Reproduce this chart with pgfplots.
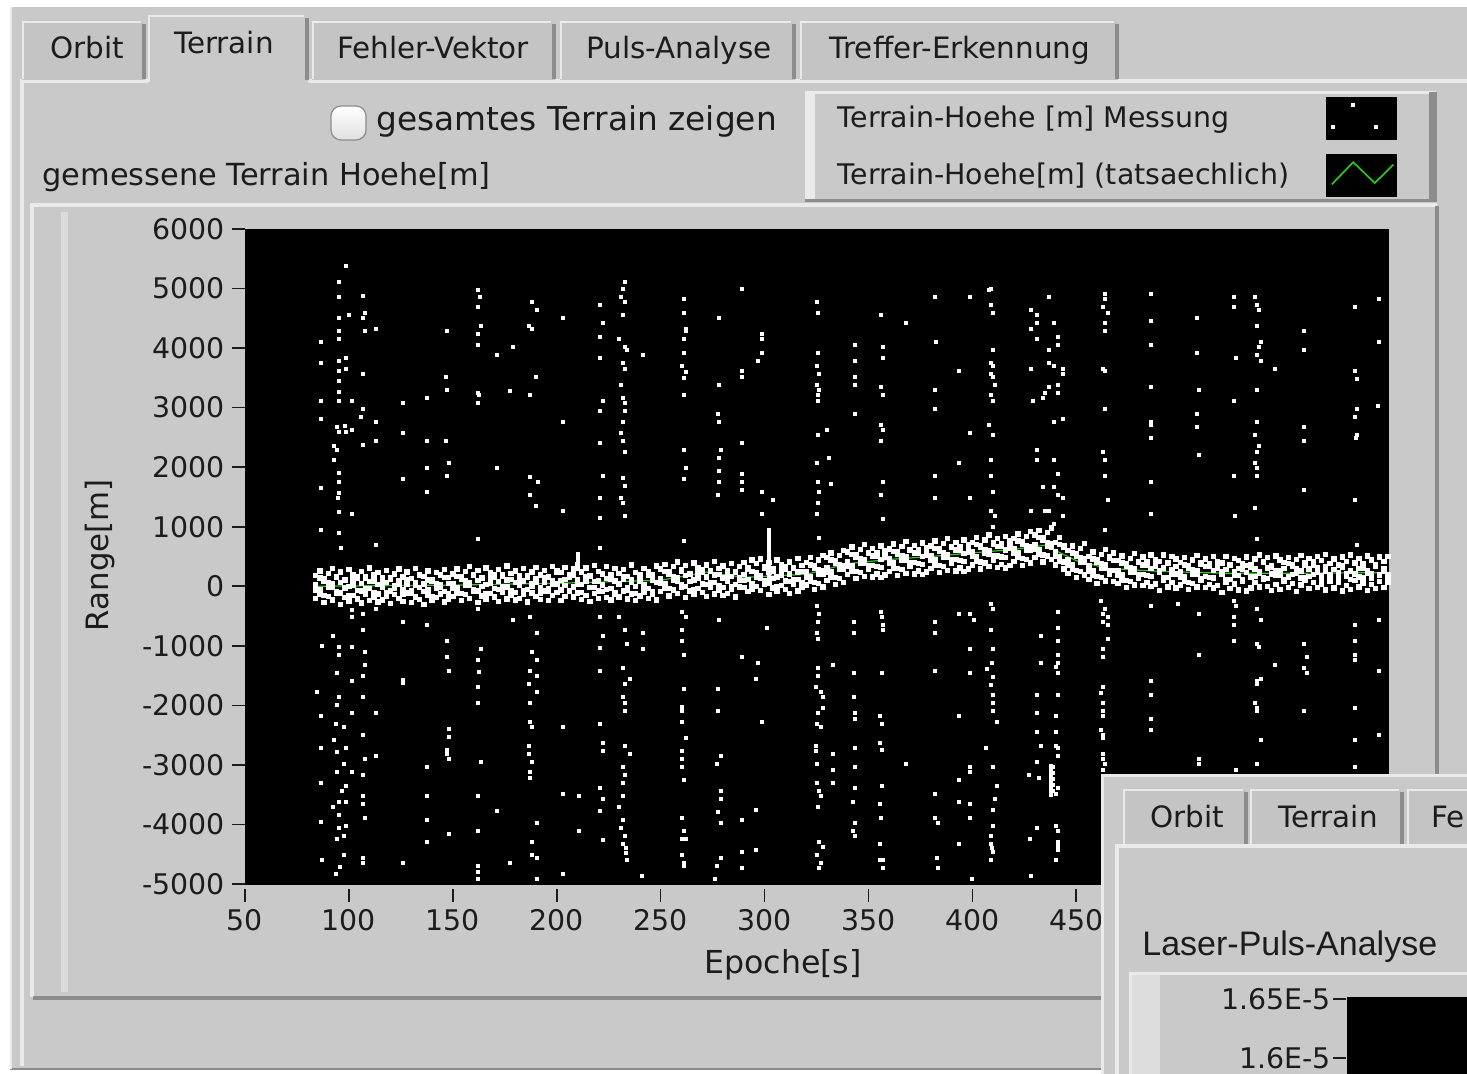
\documentclass[border=0pt]{standalone}
\usepackage{fontspec}
\setmainfont{DejaVu Sans}
\newfontfamily\helv{Liberation Sans}
\usepackage{pgfplots}
\pgfplotsset{compat=1.18}
\usepackage{pgfplotstable}
\definecolor{uigray}{RGB}{201,201,201}
\definecolor{tabgray}{RGB}{196,196,196}
\definecolor{uilight}{RGB}{234,234,234}
\definecolor{uishadow}{RGB}{140,140,140}
\definecolor{txt}{RGB}{28,28,28}
\definecolor{truegreen}{RGB}{40,210,20}

\pgfplotstableread{
x a b c d
84 20 180 -200 -60
86 -60 260 -140 140
88 90 130 -270 -150
90 -10 220 -170 60
92 40 300 -230 -20
94 -90 150 -120 170
96 70 240 -300 -110
98 -30 110 -190 100
100 0 280 -250 -160
102 110 200 -150 20
104 -70 170 -210 130
106 50 250 -280 -80
108 -40 140 -130 160
110 80 310 -240 -40
112 -100 190 -180 90
114 30 230 -260 -130
116 -20 150 -230 70
118 60 270 -160 -110
120 -80 120 -290 150
122 10 210 -140 -30
124 100 290 -200 40
126 -50 160 -250 -140
128 30 240 -110 120
130 -110 130 -270 -70
132 70 300 -180 10
134 -20 200 -220 180
136 40 170 -300 -90
138 -60 260 -150 110
140 90 110 -240 -170
142 -30 230 -190 50
144 20 190 -130 -10
146 -90 280 -260 150
148 50 150 -210 -120
150 50 210 -170 -30
152 -30 290 -110 170
154 120 160 -240 -120
156 20 250 -140 90
158 70 330 -200 10
160 -60 180 -90 200
162 100 270 -270 -80
164 0 140 -160 130
166 30 310 -220 -130
168 140 230 -120 50
170 -40 200 -180 160
172 80 280 -250 -50
174 -10 170 -100 190
176 110 340 -210 -10
178 -70 220 -150 120
180 60 260 -230 -100
182 10 180 -200 100
184 90 300 -130 -80
186 -50 150 -260 180
188 40 240 -110 0
190 130 320 -170 70
192 -20 190 -220 -110
194 60 270 -80 150
196 -80 160 -240 -40
198 100 330 -150 40
200 40 260 -100 240
202 100 230 -240 -60
204 10 320 -170 120
206 150 200 -70 -90
208 -10 290 -180 190
210 120 370 -110 40
212 30 240 -220 -100
214 80 310 -150 160
216 170 180 -250 -20
218 -20 350 -120 80
220 90 250 -200 -80
222 20 210 -90 200
224 130 330 -190 -50
226 -40 190 -230 120
228 90 300 -140 -110
230 40 220 -180 30
232 120 280 -80 170
234 -30 170 -210 -60
236 70 360 -130 110
238 0 230 -240 -120
240 150 190 -160 80
242 30 300 -100 -40
244 -40 250 -200 190
246 110 200 -140 -90
248 60 340 -230 60
250 130 290 -90 50
252 50 370 -30 250
254 200 240 -160 -40
256 100 330 -60 170
258 150 410 -120 90
260 20 260 -10 280
262 180 350 -190 0
264 80 220 -80 210
266 110 390 -140 -50
268 220 310 -40 130
270 40 280 -100 240
272 160 360 -170 30
274 70 250 -20 270
276 190 420 -130 70
278 10 300 -70 200
280 140 340 -150 -20
282 90 270 -120 180
284 170 380 -50 0
286 30 240 -180 250
288 150 330 -10 110
290 200 400 -20 100
292 120 310 -90 280
294 250 440 -50 40
296 150 380 0 230
298 180 460 -70 140
300 90 310 40 330
302 230 400 -140 50
304 130 290 -30 260
306 160 440 -90 0
308 270 360 10 180
310 90 330 -50 290
312 210 410 -120 80
314 120 300 30 320
316 240 470 -80 120
318 60 350 -20 250
320 240 400 20 160
322 160 480 80 360
324 310 350 -50 70
326 210 440 50 280
328 260 520 -10 200
330 320 480 100 240
332 240 560 160 440
334 390 430 30 150
336 290 520 130 360
338 340 600 70 280
340 420 580 200 340
342 340 660 260 540
344 490 530 130 250
346 390 620 230 460
348 440 700 170 380
350 350 550 280 570
352 510 640 160 350
354 330 510 210 560
356 450 680 150 320
358 480 600 190 510
360 470 630 250 390
362 390 710 310 590
364 540 580 180 300
366 440 670 280 510
368 490 750 220 430
370 400 600 330 620
372 560 690 210 400
374 380 560 260 610
376 500 730 200 370
378 530 650 240 560
380 520 680 300 440
382 440 760 360 640
384 590 630 230 350
386 490 720 330 560
388 540 800 270 480
390 450 650 380 670
392 610 740 260 450
394 430 610 310 660
396 550 780 250 420
398 580 700 290 610
400 580 740 360 500
402 500 820 420 700
404 650 690 290 410
406 550 780 390 620
408 600 860 330 540
410 510 710 440 730
412 670 800 320 510
414 490 670 370 720
416 610 840 310 480
418 640 760 350 670
420 640 800 420 560
422 560 880 480 760
424 710 750 350 470
426 610 840 450 680
428 660 920 390 600
430 700 860 480 620
432 620 940 540 820
434 770 810 410 530
436 670 900 510 740
438 720 980 450 660
440 580 740 360 500
442 500 820 420 700
444 650 690 290 410
446 440 600 220 360
448 360 680 280 560
450 510 550 150 270
452 410 640 250 480
454 460 720 190 400
456 340 500 120 260
458 260 580 180 460
460 410 450 50 170
462 310 540 150 380
464 360 620 90 300
466 270 470 200 490
468 430 560 80 270
470 270 430 50 190
472 190 510 110 390
474 340 380 -20 100
476 240 470 80 310
478 290 550 20 230
480 200 400 130 420
482 360 490 10 200
484 180 360 60 410
486 300 530 0 170
488 330 450 40 360
490 230 420 -70 270
492 310 530 100 150
494 150 380 -10 400
496 280 500 70 210
498 210 460 -30 330
500 240 400 20 160
502 160 480 80 360
504 310 350 -50 70
506 210 440 50 280
508 260 520 -10 200
510 130 370 100 390
512 330 460 -20 170
514 150 330 30 380
516 270 500 -30 140
518 300 420 10 330
520 200 390 -100 240
522 280 500 70 120
524 120 350 -40 370
526 250 470 40 180
528 180 430 -60 300
530 290 380 90 110
532 230 490 -80 350
534 320 360 -30 160
536 170 460 60 290
538 240 530 -10 220
540 140 410 120 400
542 310 480 0 130
544 210 340 -70 320
546 270 510 30 190
548 190 440 -50 270
550 300 400 80 120
552 160 480 -20 380
554 330 370 50 200
556 220 450 -90 300
558 260 520 20 140
560 150 390 110 360
562 290 470 -40 170
564 200 350 60 410
566 310 500 -20 230
568 180 430 40 100
570 250 540 -60 330
572 130 380 90 190
574 280 460 -30 280
576 230 360 70 150
578 320 490 -80 350
580 170 420 10 210
582 260 530 -50 120
584 210 400 100 390
586 300 470 -10 160
588 140 380 50 300
590 270 510 -70 220
592 220 440 30 130
594 330 370 -40 370
596 180 490 80 200
598 250 420 -20 290
600 200 500 60 150
}\bandtable

\newcommand{\uitab}[7]{%
  \fill[tabgray] (#1,#4) [rounded corners=4pt] -- (#1,#3) -- (#2,#3) [sharp corners] -- (#2,#4) -- cycle;
  \draw[uilight, line width=1.2pt] (#1+1,#4-1) -- (#1+1,#3+2) -- (#2-4,#3+2);
  \draw[uishadow, line width=2pt] (#2-1,#3+4) -- (#2-1,#4-1);
  \node[anchor=base, inner sep=0pt, text=txt, font=\fontsize{14.7}{17}\selectfont] at (#6,#7) {#5};
}

\begin{document}
\begin{tikzpicture}
\useasboundingbox (0pt,0pt) rectangle (733.5pt,-537pt);
\clip (0pt,0pt) rectangle (733.5pt,-537pt);
\begin{scope}[x=0.5pt,y=-0.5pt]
  \fill[white] (0,0) rectangle (1467,1074);
  \fill[uigray] (10,7) rectangle (1467,1070);
  \draw[uishadow, line width=1pt] (10,1069) -- (1467,1069);
  \draw[uilight, line width=1pt] (11,7) -- (11,1069);
  % tab panel edges
  \draw[uilight, line width=2pt] (22,1066) -- (22,81) -- (1467,81);
  % tabs
  \uitab{22}{145}{20}{80}{Orbit}{87}{58.5}
  \uitab{312}{555}{20}{80}{Fehler-Vektor}{433}{58.5}
  \uitab{560}{795}{20}{80}{Puls-Analyse}{679}{58.5}
  \uitab{800}{1118}{20}{80}{Treffer-Erkennung}{960}{58.5}
  \fill[uigray] (148,84) [rounded corners=4pt] -- (148,14) -- (308,14) [sharp corners] -- (308,84) -- cycle;
  \draw[uilight, line width=1.2pt] (149,82) -- (149,16) -- (304,16);
  \draw[uishadow, line width=2pt] (307,18) -- (307,80);
  \node[anchor=base, inner sep=0pt, text=txt, font=\fontsize{14.7}{17}\selectfont] at (224,53.5) {Terrain};
  % checkbox and labels
  \shadedraw[top color=white, bottom color=black!12, draw=black!45, rounded corners=5pt, line width=0.6pt] (331,106) rectangle (366,140);
  \node[anchor=base west, inner sep=0pt, text=txt, font=\fontsize{16.4}{19}\selectfont] at (376,131) {gesamtes Terrain zeigen};
  \node[anchor=base west, inner sep=0pt, text=txt, font=\fontsize{15.2}{18}\selectfont] at (42,186) {gemessene Terrain Hoehe[m]};
  % legend frame
  \fill[uigray] (805,92) rectangle (1437,202);
  \fill[uilight] (805,93) rectangle (815,200);
  \draw[uilight, line width=1.5pt] (805,93) -- (1436,93);
  \fill[black!45] (1429,92) rectangle (1437,202);
  \draw[uishadow, line width=1.5pt] (805,201) -- (1437,201);
  % graph container
  \draw[uilight, line width=2pt] (32,997) -- (32,205) -- (1437,205);
  \draw[uishadow, line width=2pt] (33,998) -- (1437,998) -- (1437,206);
  \fill[uilight!55!uigray] (61,212) rectangle (68,992);
\end{scope}

\begin{axis}[
  at={(122.5pt,-442pt)}, anchor=south west,
  scale only axis, width=571.5pt, height=327.5pt,
  xmin=50, xmax=600, ymin=-5000, ymax=6000,
  axis background/.style={fill=black},
  axis line style={black},
  xtick={50,100,...,600},
  xticklabels={50,100,150,200,250,300,350,400,450,{},{},{}},
  ytick={-5000,-4000,...,6000},
  yticklabels={-5000,-4000,-3000,-2000,-1000,0,1000,2000,3000,4000,5000,6000},
  tick pos=left,
  tick align=outside,
  major tick length=6.5pt,
  tick style={txt, line width=0.8pt},
  xtick style={yshift=-2.5pt},
  tick label style={font=\fontsize{14.2}{16}\selectfont, text=txt},
  yticklabel style={inner sep=1.5pt, xshift=-2pt},
  xticklabel style={yshift=-2.5pt},
  xlabel={Epoche[s]}, ylabel={Range[m]},
  xlabel style={at={(axis description cs:0.4707,0)}, anchor=center, yshift=-40.5pt, font=\fontsize{15.8}{18}\selectfont, text=txt},
  ylabel style={at={(axis description cs:-0.1269,0.502)}, anchor=center, font=\fontsize{15.4}{18}\selectfont, text=txt},
  legend plot pos=right,
  legend cell align=left,
  legend style={at={(axis description cs:0.5188,1.2015)}, anchor=north west, draw=none, fill=none,
    inner sep=0pt, outer sep=0pt, column sep=18.5pt, row sep=7pt,
    font=\fontsize{14.2}{17}\selectfont, text=txt, nodes={inner sep=0pt}},
]
\addlegendimage{legend image code/.code={
  \fill[black] (0pt,-10.5pt) rectangle (35pt,10.5pt);
  \fill[white] (12.5pt,6pt) rectangle ++(1.4pt,1.4pt);
  \fill[white] (2.2pt,-4.8pt) rectangle ++(1.4pt,1.4pt);
  \fill[white] (23.8pt,-4.8pt) rectangle ++(1.4pt,1.4pt);}}
\addlegendentry{Terrain-Hoehe [m] Messung}
\addlegendimage{legend image code/.code={
  \fill[black] (0pt,-10.5pt) rectangle (35pt,10.5pt);
  \draw[truegreen, line width=0.8pt] (2.5pt,-4.6pt) -- (13.2pt,6.5pt) -- (24pt,-3.9pt) -- (33.3pt,5.3pt);}}
\addlegendentry{Terrain-Hoehe[m] (tatsaechlich)}

% true terrain height (mostly hidden below the measurements)
\addplot[truegreen, line width=0.6pt, forget plot] coordinates {
(84,0) (150,20) (200,50) (250,100) (272,237) (290,150) (320,200) (340,380) (360,450)
(380,500) (400,560) (420,620) (435,690) (440,600) (450,430) (465,300) (490,250)
(520,220) (560,220) (600,230)};

% dense band of terrain returns
\addplot[only marks, mark=square*, mark size=1.1pt, white, forget plot] table[x=x, y=a] {\bandtable};
\addplot[only marks, mark=square*, mark size=1.1pt, white, forget plot] table[x=x, y=b] {\bandtable};
\addplot[only marks, mark=square*, mark size=1.1pt, white, forget plot] table[x=x, y=c] {\bandtable};
\addplot[only marks, mark=square*, mark size=1.1pt, white, forget plot] table[x=x, y=d] {\bandtable};

% scattered false returns, above the band
\addplot[only marks, mark=square*, mark size=0.75pt, white, forget plot] coordinates {
(86.7,4107) (86.7,3752) (86.7,3110) (86.7,2805) (86.5,1650) (86.7,950)
(95.4,5104) (95.4,4867) (95.4,4512) (95.4,4292) (95.4,4157) (95.4,3786) (95.4,3617)
(95.4,3448) (95.4,3262) (95.4,3110) (94.4,2670) (95.4,2586) (93,2349) (94,2298)
(93,2129) (95,1910) (95.4,1757) (95.4,1572) (94.5,1487) (95.4,1251) (95,900) (96,650)
(98.7,5375) (98.7,3836) (98.7,3650) (98.2,2700) (98.7,2586) (100.2,4563) (101.6,3110)
(101.6,2620) (101.6,1217) (106.5,4884) (106.5,4512) (106.5,3566) (106.5,2974)
(106,2839) (106.5,2366) (107.9,4597) (107.9,4292) (113.2,4326) (113.2,2755)
(113.2,2434) (113.2,700) (125.8,3076) (125.8,2569) (125.8,1808) (137.3,3160) (137.3,2434)
(137.3,1994) (137.3,1589) (147,4293) (146.5,3515) (147,3296) (146.5,2434) (148,2079)
(147,1859) (162,4969) (163,4867) (162,4698) (163.4,4377) (162,4242) (162,4056)
(162,3245) (162.5,3211) (162,3076) (162,800) (171,3887) (171,1994) (178.8,4022)
(177.4,3279) (188,4783) (190.5,4648) (186.5,4377) (188,4326) (190,3515) (187,3211)
(187,1842) (191,1757) (187,1538) (190,1352) (203,4512) (203,2755) (203,1268)
(221,4732) (222,4428) (221,4191) (221,3836) (222,3110) (221,2941) (221,2400)
(222,1859) (221,1487) (221,1149) (221,650) (233,5104) (232,5002) (231,4867) (233,4783)
(232,4563) (230,4157) (233,4022) (234,3972) (232,3752) (233,3650) (231,3380)
(232,3160) (233,3076) (233,2941) (232,2755) (231,2569) (232,2434) (233,2264)
(232,1825) (233,1690) (231,1487) (232,1403) (233,1183) (241.6,3887)
(261,4833) (261,4597) (262,4326) (262,4293) (261,4157) (261,3921) (260,3701)
(262,3600) (261,3498) (261,3211) (261,2298) (262,1994) (261,1808) (261,760)
(278,4512) (278,3380) (277.7,2890) (278,2755) (279,2298) (278,2163) (278,1943)
(278,1757) (277.7,1538) (289.3,5002) (289.3,3617) (289.3,3515) (289.3,2400)
(289.3,1893) (289.3,1760) (289.3,1622) (298.5,4242) (298.5,4157) (298.5,3921)
(297,3786) (298.5,1589) (298.5,1217) (303.8,1453)
(325,4783) (325.5,4597) (325.5,3921) (325,3701) (326,3566) (325,3380) (326,3300)
(325.5,3211) (325.5,3110) (325.5,2535) (325,2079) (325.5,1757) (326,1589)
(325.5,1400) (325,1217) (326,820) (330,2620) (331,2163) (332,1724)
(343.4,4056) (343.4,3786) (343.4,3515) (343.4,3380) (343.4,2890)
(356,4563) (357,4022) (357,3836) (356,3346) (357,3211) (356,2704) (357,2620)
(356,2434) (357,1757) (356,1538) (357,1132) (368,4428)
(382,4867) (382.5,4107) (382,3296) (382,2974) (382,1859) (382,1487)
(393.5,3617) (393.5,2079) (399,4867) (399,2569) (399,1487)
(409,5002) (408,4969) (409,4732) (410,4597) (410,3972) (409,3752) (410,3701)
(409,3566) (410,3515) (411,3380) (409,3211) (410,3110) (408,2704) (410,2535)
(409,2129) (409,1859) (410,1589) (409,1268) (411,1183) (410,1000)
(428,4648) (431,4563) (437,4867) (428,4326) (431,4428) (439,4428) (441,4191)
(431,4157) (441,4056) (437,3972) (437,3752) (439,3701) (443.5,3650) (443.5,3566)
(428,3650) (441,3380) (437,3346) (435,3245) (441,3245) (434,3160) (429,3110)
(439,2755) (443.5,2805) (431,2298) (431,2129) (439,2129) (441,1893) (434,1673)
(439,1673) (441,1538) (443.5,1487) (428,1268) (435,1268) (437,1268) (443.5,1183)
(439,1050)
(464,4918) (464,4833) (463,4698) (465,4597) (464,4428) (464,4293) (463,3650)
(464,3617) (464,2974) (463,2264) (464,2129) (464,1859) (465,1453) (464,950)
(486,4918) (486,4462) (486,4056) (486,3346) (486,2755) (486,2704) (486,2485)
(486,1757) (486,1217) (508,4512) (508,3921) (509,3296) (508,2890) (508,2670)
(509,2214) (526,4867) (526,4698) (527,3836) (526,3110) (526,1859) (526.5,1183)
(536,4867) (537,4732) (538,4648) (537,4377) (539,4107) (538,4022) (537,3887)
(539,3786) (537,3296) (537,2755) (536,2535) (538,2349) (537,2264) (536,2079)
(537,1994) (537,1859) (536,1318) (537,800) (545.5,3650)
(559.5,4293) (559.5,3972) (559.5,2670) (559.5,2434) (559.5,1622)
(584,4698) (584,3617) (585,3482) (585,2974) (584,2839) (585,2535) (584.5,2485)
(584,1453) (585,700) (595.5,4833) (595.5,4107) (595,3025)
(302,100) (302,150) (302,200) (302,250) (302,300) (302,350) (302,400) (302,450)
(302,500) (302,550) (302,600) (302,650) (302,700) (302,750) (302,800) (302,850)
(302,900) (302,950) (210.2,300) (210.2,350) (210.2,400) (210.2,450) (210.2,500) (210.2,550)
};

% scattered false returns, below the band
\addplot[only marks, mark=square*, mark size=0.75pt, white, forget plot] coordinates {
(84.7,-1780) (86.7,-2180) (86.7,-2720) (86.7,-3300) (86.8,-1000) (86.7,-3950) (87,-4600)
(92.5,-840) (95.4,-1023) (95.4,-1158) (94.4,-1460) (95.4,-1863) (94.4,-1997)
(93.5,-2316) (97.5,-2366) (93,-2584) (94.4,-2785) (98.7,-2718) (97.5,-2987)
(94.4,-3121) (98.7,-3356) (96.5,-3440) (95.4,-3624) (98.7,-3624) (92.5,-3708)
(95.4,-3843) (95.4,-4061) (98.7,-4027) (94.4,-4245) (97.5,-4195) (97.5,-4514)
(95.8,-4715) (93.5,-4833) (101.6,-400) (101.6,-520) (101.6,-1023) (101.6,-1594)
(101.6,-2131) (101.6,-3121) (106.5,-470) (106.5,-738) (106.5,-1510) (106.5,-1863)
(106.5,-2500) (106.5,-3171) (106.5,-3524) (106.5,-3658) (106.5,-4560) (106.5,-4640)
(107.9,-1107) (107.9,-1326) (107.9,-3893) (107.9,-2903) (113.2,-386) (113.2,-2131)
(113.2,-2853) (125.8,-604) (125.8,-1577) (125.8,-1620) (125.8,-4648)
(137.3,-654) (137.3,-3037) (137.3,-3524) (137.3,-3927) (137.3,-4296)
(147,-923) (147,-1191) (148,-1426) (148,-2400) (148,-2534) (147,-2750) (147,-2820)
(148,-2903) (148,-4161) (162,-386) (163.4,-1057) (162,-1242) (162.5,-1443)
(162,-1695) (162,-1963) (163.4,-2953) (162,-3524) (162,-4111) (162,-4698)
(162,-4800) (162,-4916) (171,-3776) (177.4,-4648) (178.8,-570)
(187,-520) (190.5,-789) (188,-1107) (190.5,-1242) (187,-1426) (190.5,-1510)
(186.5,-1644) (190.5,-1779) (187,-1963) (187,-2282) (188,-2366) (186.5,-2685)
(186.5,-2819) (188,-2953) (187,-3121) (187,-3222) (190.5,-3977) (188,-4296)
(188,-4514) (190.5,-4564) (190.5,-4916) (203,-2366) (203,-3490) (203,-4833)
(210.7,-3524) (210.7,-4111) (221,-520) (222,-839) (221,-1040) (221,-1426)
(221,-2316) (222,-2634) (222,-2769) (221,-3390) (222,-3574) (221,-3776) (222,-4262)
(230,-520) (233,-738) (234,-973) (232,-1376) (235,-1560) (233,-1644) (232,-1863)
(233,-1963) (233,-2097) (233,-2685) (235,-2819) (232,-3037) (233,-3171) (232,-3306)
(232,-3524) (230,-3708) (232,-3927) (231,-4061) (233,-4195) (232,-4329)
(233.5,-4400) (233.5,-4480) (234,-4598) (241.6,-789) (241.6,-1057) (241,-4866)
(260,-436) (262,-520) (260,-738) (260,-923) (261,-1158) (261,-1728) (260,-2030)
(260,-2097) (260,-2282) (262,-2550) (260,-2769) (260,-2903) (260,-3037) (261,-3255)
(260,-3893) (261,-4111) (260,-4245) (262,-4245) (260,-4514) (261,-4650) (261,-4700)
(278,-570) (277.5,-1728) (277.5,-2097) (279,-2853) (277,-2987) (279,-3440)
(279,-3574) (277.5,-3792) (279,-3977) (279,-4564) (277,-4698) (276,-4916)
(289.3,-1191) (289.3,-3927) (289.3,-4464) (289.3,-4732) (301,-705) (297,-1292)
(296,-1560) (298.5,-2282) (296,-3759) (296,-4430)
(325,-336) (326,-470) (325.5,-604) (325,-789) (325.5,-889) (325.5,-1376)
(325.5,-1510) (324.5,-1695) (327,-1780) (328,-1863) (328,-2047) (325.5,-2131)
(325,-2316) (327,-2366) (324.5,-2685) (324.5,-2769) (325,-2987) (325,-3306)
(326,-3440) (327,-3524) (325.5,-3708) (326,-4296) (328,-4380) (325,-4514)
(327,-4648) (326,-4732) (333,-1326) (333,-2819) (333,-3087) (333,-3306)
(343,-604) (343,-789) (343,-1460) (343,-1863) (343.5,-2131) (343.5,-2232)
(343.5,-2718) (343.5,-3037) (343.5,-3390) (342.5,-3624) (343.5,-3977)
(342.5,-4111) (343.5,-4195) (355.8,-436) (356.5,-520) (357,-654) (357,-738)
(356.5,-1460) (355.5,-2181) (356.5,-2316) (355.5,-2634) (356.5,-2752)
(356.5,-3356) (355.5,-3658) (356,-3893) (355.5,-4329) (355.5,-4598) (357,-4598)
(357,-4732) (368,-2987) (382,-604) (382,-789) (382,-1426) (382,-3490) (382,-3893)
(383.5,-3977) (383,-4564) (383.5,-4732) (393.5,-470) (393.5,-2181) (393.5,-3255)
(393.5,-3624) (393.5,-4329) (399,-470) (400.5,-570) (399,-1057) (399,-1460)
(399,-3037) (399,-3121) (399,-3658) (399,-3893) (400,-4916)
(409,-302) (410,-386) (409,-738) (410,-1057) (409.5,-1292) (407,-1393) (410,-1527)
(409,-1661) (410,-1829) (410,-1963) (410,-2097) (412,-2282) (406.5,-2718)
(410,-3037) (412,-3356) (411,-3574) (410,-3759) (410,-4027) (409,-4195)
(409,-4329) (409.5,-4400) (410,-4464) (409,-4598)
(427,-3171) (427.5,-4245) (428,-4866) (433,-839) (433,-1292) (431,-1829)
(431,-2131) (431,-2450) (433,-2685) (431,-2953) (432,-3222) (431,-4061)
(438,-3020) (438,-3070) (438,-3120) (438,-3170) (438,-3220) (438,-3270)
(438,-3320) (438,-3370) (438,-3420) (438,-3470) (438,-3507)
(438.7,-3040) (438.7,-3140) (438.7,-3240) (438.7,-3340) (438.7,-3440)
(441,-436) (441,-705) (441,-923) (441,-1158) (441,-1292) (440,-1360) (441,-1460)
(441,-1829) (440,-2181) (440,-2450) (440,-2685) (441,-2718) (441,-2853)
(441,-3390) (440,-3490) (440,-4027) (441,-4111) (441,-4296) (441,-4360)
(441,-4430) (440,-4598)
(462,-252) (464,-386) (463,-470) (465,-520) (463,-604) (465,-654) (465,-889)
(463,-1057) (463,-1191) (463,-1695) (462,-1795) (463,-1963) (463,-2097)
(463,-2181) (462,-2416) (463,-2500) (463,-2550) (463,-2819) (463,-2903)
(464,-2987) (463,-3087) (486,-336) (486,-1594) (486,-1829) (486,-2232) (486,-2416)
(499,-302) (509,-470) (509,-1158) (509,-2903) (509,-2987) (526,-252) (527,-336)
(526,-520) (526,-654) (526,-923) (527,-3087) (537,-386) (539,-570) (537,-973)
(538,-1023) (539,-1560) (537,-1594) (537,-1644) (536,-1963) (537,-2047)
(537,-2097) (539,-2584) (537,-2987) (545.5,-1326) (559.5,-973) (561,-1191)
(559.5,-1376) (561,-1460) (559.5,-2097) (584,-654) (584,-923) (584,-1158)
(584,-1242) (584,-2047) (584,-2584) (584,-3037) (595.5,-570) (595.5,-1426)
(595.5,-2500)
};
\end{axis}

% second window overlapping in the lower right corner
\begin{scope}[x=0.5pt,y=-0.5pt]
  \fill[uigray] (1101,774) rectangle (1467,1074);
  \draw[uilight, line width=1.5pt] (1102,1074) -- (1102,775) -- (1467,775);
  \uitab{1123}{1247}{788}{845}{Orbit}{1187}{827.5}
  \uitab{1250}{1403}{788}{845}{Terrain}{1328}{827.5}
  \fill[tabgray] (1407,845) [rounded corners=4pt] -- (1407,788) -- (1480,788) [sharp corners] -- (1480,845) -- cycle;
  \draw[uilight, line width=1.2pt] (1408,844) -- (1408,790) -- (1467,790);
  \node[anchor=base west, inner sep=0pt, text=txt, font=\fontsize{14.7}{17}\selectfont] at (1431,827.5) {Fe};
  \draw[uilight, line width=2pt] (1117,1074) -- (1117,846) -- (1467,846);
  \node[anchor=base west, inner sep=0pt, text=txt, font=\helv\fontsize{17}{20}\selectfont] at (1142,955) {Laser-Puls-Analyse};
  \draw[uilight, line width=1.5pt] (1130,1074) -- (1130,973) -- (1467,973);
  \fill[uilight!60!uigray] (1132,975) rectangle (1160,1074);
  \fill[black] (1347,997) rectangle (1467,1074);
  \node[anchor=east, inner sep=0pt, text=txt, font=\fontsize{14.2}{16}\selectfont] at (1331,999) {1.65E-5};
  \draw[txt, line width=0.8pt] (1333,999) -- (1346,999);
  \node[anchor=east, inner sep=0pt, text=txt, font=\fontsize{14.2}{16}\selectfont] at (1331,1058) {1.6E-5};
  \draw[txt, line width=0.8pt] (1333,1058) -- (1346,1058);
\end{scope}
\end{tikzpicture}
\end{document}
